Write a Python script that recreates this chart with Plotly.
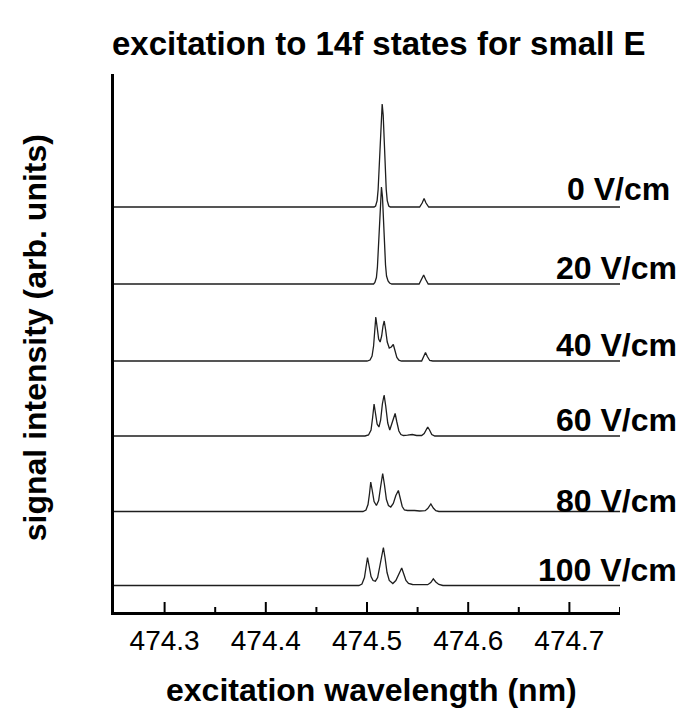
import plotly.graph_objects as go

# ---- data (wavelength in nm, intensity in arb. units) ----
labels = ["0 V/cm", "20 V/cm", "40 V/cm", "60 V/cm", "80 V/cm", "100 V/cm"]
offsets = [378.5, 301.5, 224.5, 149.5, 74.0, 0.0]

x_0 = [474.25, 474.507, 474.5085, 474.510, 474.511, 474.512, 474.513, 474.514, 474.515,
       474.516, 474.517, 474.518, 474.519, 474.520, 474.5215, 474.523, 474.552, 474.5545,
       474.5564, 474.5583, 474.561, 474.75]
y_0 = [0, 0, 1, 6.4, 17.5, 38, 66, 92, 103, 92, 66, 38, 17.5, 6.4, 1, 0, 0, 4, 8.5, 4, 0, 0]

x_20 = [474.25, 474.5065, 474.5078, 474.5093, 474.5103, 474.5113, 474.5123, 474.5133, 474.5143,
        474.5153, 474.5163, 474.5173, 474.5183, 474.5193, 474.5208, 474.5223, 474.5245,
        474.5515, 474.5540, 474.5560, 474.5580, 474.5605, 474.75]
y_20 = [0, 0, 1.5, 6.5, 17, 36, 62, 87, 97, 87, 62, 37, 19, 8, 3, 1, 0,
        0, 4.5, 9, 4.5, 0, 0]

x_40 = [474.25, 474.500, 474.503, 474.505, 474.5065, 474.5075, 474.5087, 474.510, 474.5115,
        474.513, 474.5145, 474.5158, 474.517, 474.5183, 474.520, 474.522, 474.524, 474.526,
        474.5278, 474.5295, 474.5315, 474.534, 474.554, 474.556, 474.5578, 474.5596,
        474.562, 474.565, 474.75]
y_40 = [0, 0, 1, 5, 15, 28, 44, 34, 22, 19, 25, 35, 40, 32, 19, 13, 14, 16.5,
        10, 3.5, 0.8, 0, 0, 4.5, 8.5, 4.5, 0.5, 0, 0]

x_60 = [474.25, 474.498, 474.5015, 474.504, 474.5055, 474.507, 474.5085, 474.510, 474.5118,
        474.5135, 474.5152, 474.5169, 474.5185, 474.5205, 474.5225, 474.5245, 474.5262,
        474.5278, 474.5295, 474.5315, 474.5335, 474.536, 474.540, 474.5447, 474.549,
        474.554, 474.5565, 474.5582, 474.560, 474.5618, 474.564, 474.567, 474.75]
y_60 = [0, 0, 1, 6, 18, 32, 22, 12, 9, 16, 32, 41, 30, 13, 6, 12, 19, 22.5,
        14, 5, 1.5, 0.5, 0.8, 1.5, 0.5, 0.5, 2.5, 6, 9, 6, 1.5, 0, 0]

x_80 = [474.25, 474.496, 474.499, 474.501, 474.5025, 474.5037, 474.5052, 474.507, 474.5093,
        474.5115, 474.5135, 474.5155, 474.5172, 474.5192, 474.5212, 474.5235, 474.526,
        474.5285, 474.531, 474.5328, 474.5348, 474.537, 474.540, 474.547, 474.552,
        474.5575, 474.560, 474.5631, 474.5655, 474.568, 474.571, 474.75]
y_80 = [0, 0, 1.5, 7, 18, 29.5, 21, 10, 6, 11, 25, 38, 27, 12, 6, 4.5, 8, 16, 21,
        13, 5, 1.5, 1, 1, 0.5, 0.8, 3, 7.5, 3.5, 0.8, 0, 0]

x_100 = [474.25, 474.492, 474.495, 474.4975, 474.499, 474.5005, 474.502, 474.504, 474.506,
         474.5083, 474.5105, 474.513, 474.5148, 474.5162, 474.5178, 474.5198, 474.522,
         474.5255, 474.5285, 474.5315, 474.5343, 474.5365, 474.5385, 474.541, 474.545,
         474.552, 474.560, 474.563, 474.5655, 474.568, 474.571, 474.575, 474.75]
y_100 = [0, 0, 1.5, 8, 18, 28, 20, 9, 5, 4.3, 8, 20, 32, 38, 28, 13, 5, 2, 5, 12,
         17.5, 11, 5, 2, 1, 0.8, 0.8, 3, 6.7, 3.5, 1, 0, 0]

series_x = [x_0, x_20, x_40, x_60, x_80, x_100]
series_y = [y_0, y_20, y_40, y_60, y_80, y_100]

x_range = [474.25, 474.75]
y_range = [-26.5, 511.5]
major_ticks = [474.3, 474.4, 474.5, 474.6, 474.7]
minor_ticks = [474.35, 474.45, 474.55, 474.65, 474.75]

FONT = "Liberation Sans, Arial, sans-serif"
MAJOR_LEN, MINOR_LEN = 10, 5  # in y units (1 y-unit = 1 px here)

fig = go.Figure()
for xs, ys, off in zip(series_x, series_y, offsets):
    fig.add_trace(go.Scatter(
        x=xs, y=[v + off for v in ys], mode="lines",
        line=dict(color="#1e1e1e", width=1.3),
        showlegend=False, hoverinfo="skip"))

# inward-pointing tick marks on the wavelength axis, drawn as short line segments
tx, ty = [], []
for ticks, tl in ((major_ticks, MAJOR_LEN), (minor_ticks, MINOR_LEN)):
    for t in ticks:
        tx += [t, t, None]
        ty += [y_range[0], y_range[0] + tl, None]
fig.add_trace(go.Scatter(x=tx, y=ty, mode="lines", connectgaps=False,
                         line=dict(color="black", width=2),
                         showlegend=False, hoverinfo="skip", cliponaxis=False))

label_dy = [18.5, 16, 16.5, 16.5, 10.5, 16]
label_x = [1.103, 1.117, 1.117, 1.117, 1.117, 1.117]
for lab, off, dy, lx in zip(labels, offsets, label_dy, label_x):
    fig.add_annotation(text="<b>%s</b>" % lab, xref="paper", yref="y",
                       x=lx, y=off + dy, xanchor="right", yanchor="middle",
                       showarrow=False, font=dict(family=FONT, size=32, color="black"))

fig.add_annotation(text="<b>excitation wavelength (nm)</b>", xref="paper", yref="paper",
                   x=0.509, y=-0.145, xanchor="center", yanchor="middle", showarrow=False,
                   font=dict(family=FONT, size=32, color="black"))
fig.add_annotation(text="<b>signal intensity (arb. units)</b>", xref="paper", yref="paper",
                   x=-0.156, y=0.509, xanchor="center", yanchor="middle", textangle=-90,
                   showarrow=False, font=dict(family=FONT, size=32, color="black"))

fig.update_layout(
    width=695, height=713,
    margin=dict(l=114, r=75, t=74, b=101),
    paper_bgcolor="white", plot_bgcolor="white",
    title=dict(text="<b>excitation to 14f states for small E</b>",
               x=0.545, xanchor="center", y=1 - 43 / 713, yanchor="middle",
               font=dict(family=FONT, size=33, color="black")),
    xaxis=dict(range=x_range, tickvals=major_ticks, ticktext=["%.1f" % v for v in major_ticks],
               ticks="", ticklabelstandoff=2,
               showline=True, linecolor="black", linewidth=2.5, mirror=False,
               showgrid=False, zeroline=False,
               tickfont=dict(family=FONT, size=28, color="black")),
    yaxis=dict(range=y_range, showticklabels=False, ticks="",
               showline=True, linecolor="black", linewidth=2.5,
               showgrid=False, zeroline=False),
)

fig.write_html("out.html")
